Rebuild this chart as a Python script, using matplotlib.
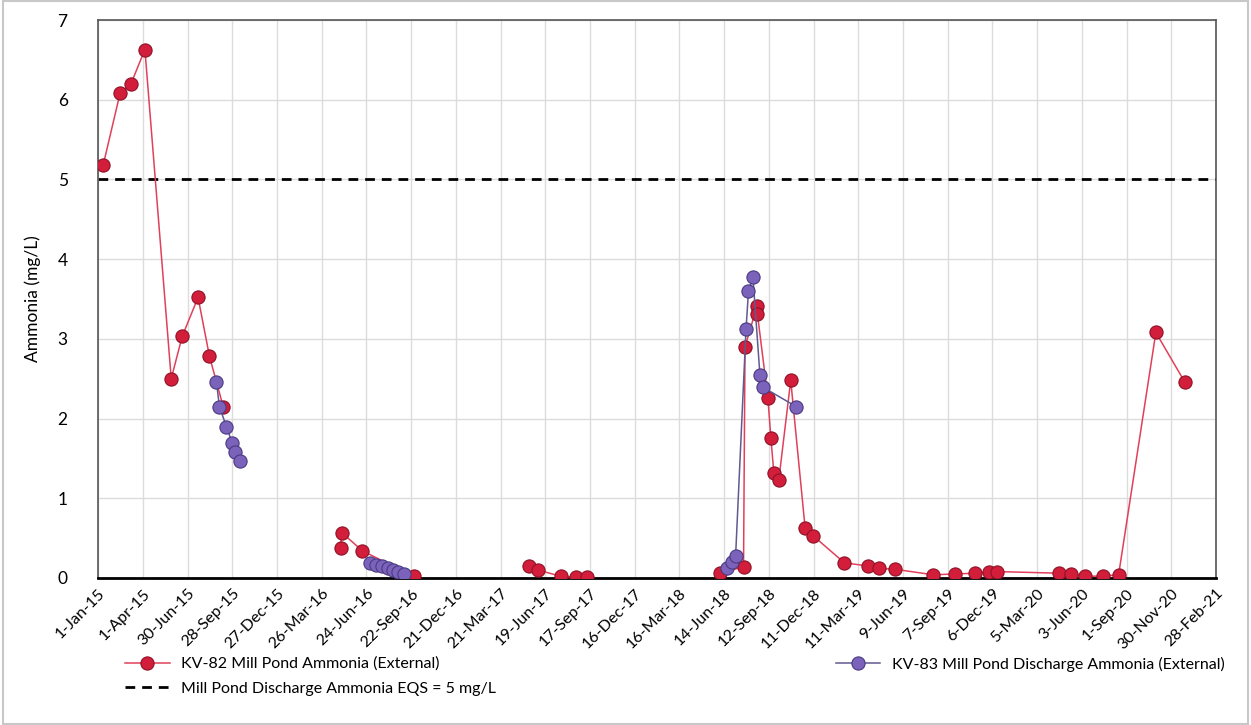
import numpy as np
import pandas as pd
import matplotlib
matplotlib.use('Agg')
import matplotlib.pyplot as plt
from matplotlib.patches import Rectangle

plt.rcParams['font.family'] = ['Lato', 'DejaVu Sans']

# KV-82 Mill Pond Ammonia (External)
red_dates = ['2015-01-11', '2015-02-14', '2015-03-08', '2015-04-05', '2015-05-28',
             '2015-06-19', '2015-07-21', '2015-08-13', '2015-09-10',
             '2016-05-03', '2016-05-05', '2016-06-16', '2016-09-27',
             '2017-05-18', '2017-06-04', '2017-07-21', '2017-08-20', '2017-09-10',
             '2018-06-06', '2018-07-23', '2018-07-26', '2018-08-19', '2018-08-20',
             '2018-09-10', '2018-09-16', '2018-09-22', '2018-10-02', '2018-10-26',
             '2018-11-24', '2018-12-10',
             '2019-02-11', '2019-03-31', '2019-04-22', '2019-05-23', '2019-08-09',
             '2019-09-21', '2019-11-01', '2019-11-29', '2019-12-16',
             '2020-04-18', '2020-05-12', '2020-06-10', '2020-07-16', '2020-08-16',
             '2020-10-30', '2020-12-27']
red_vals = [5.18, 6.08, 6.20, 6.63, 2.50,
            3.03, 3.52, 2.78, 2.14,
            0.38, 0.57, 0.34, 0.02,
            0.15, 0.10, 0.02, 0.01, 0.01,
            0.06, 0.14, 2.90, 3.41, 3.31,
            2.26, 1.76, 1.32, 1.23, 2.48,
            0.625, 0.53,
            0.19, 0.15, 0.12, 0.11, 0.04,
            0.05, 0.06, 0.07, 0.08,
            0.06, 0.05, 0.02, 0.025, 0.04,
            3.08, 2.46]
red_breaks = ['2015-09-10', '2016-09-27', '2017-09-10']

# KV-83 Mill Pond Discharge Ammonia (External)
purple_dates = ['2015-08-27', '2015-09-02', '2015-09-16', '2015-09-28', '2015-10-04', '2015-10-13',
                '2016-07-01', '2016-07-13', '2016-07-25', '2016-08-06', '2016-08-16', '2016-08-26',
                '2016-09-07',
                '2018-06-20', '2018-06-29', '2018-07-07', '2018-07-28', '2018-08-02',
                '2018-08-11', '2018-08-25', '2018-09-01', '2018-11-06']
purple_vals = [2.46, 2.15, 1.90, 1.69, 1.58, 1.47,
               0.19, 0.16, 0.15, 0.13, 0.10, 0.08,
               0.05,
               0.12, 0.20, 0.27, 3.12, 3.60,
               3.77, 2.55, 2.39, 2.15]
purple_breaks = ['2015-10-13', '2016-09-07']

eqs_value = 5.0

x_start, x_end = pd.Timestamp('2015-01-01'), pd.Timestamp('2021-02-28')
tick_dates = pd.date_range(x_start, x_end, freq='90D')


def with_gaps(dates, vals, breaks):
    d = pd.to_datetime(dates)
    b = pd.to_datetime(breaks)
    xs, ys = [], []
    for di, v in zip(d, vals):
        xs.append(di)
        ys.append(v)
        if di in b:
            xs.append(di + pd.Timedelta(days=1))
            ys.append(np.nan)
    return xs, ys


fig = plt.figure(figsize=(12.51, 7.25), dpi=100)
ax = fig.add_axes([0.0785, 0.2028, 0.8935, 0.7696])

rx, ry = with_gaps(red_dates, red_vals, red_breaks)
px, py = with_gaps(purple_dates, purple_vals, purple_breaks)

red_line, = ax.plot(rx, ry, '-', color='#e0405a', lw=1.1, marker='o', markersize=9.5,
                    markerfacecolor='#d21d3b', markeredgecolor='#8e1226', markeredgewidth=0.8,
                    label='KV-82 Mill Pond Ammonia (External)', zorder=3)
purple_line, = ax.plot(px, py, '-', color='#5f5a90', lw=1.1, marker='o', markersize=9.5,
                       markerfacecolor='#7b62bb', markeredgecolor='#4a3a82', markeredgewidth=0.8,
                       label='KV-83 Mill Pond Discharge Ammonia (External)', zorder=4)
eqs_line = ax.axhline(eqs_value, color='black', lw=2, ls=(0, (3.5, 2.5)),
                      label='Mill Pond Discharge Ammonia EQS = 5 mg/L', zorder=2)

ax.set_xlim(x_start, x_end)
ax.set_ylim(0, 7)
ax.set_xticks(tick_dates)
ax.set_xticklabels([f"{d.day}-{d.strftime('%b-%y')}" for d in tick_dates],
                   rotation=45, ha='right', rotation_mode='anchor', fontsize=11.5)
ax.set_yticks(range(0, 8))
ax.tick_params(axis='y', labelsize=12.5, length=0, pad=22)
ax.tick_params(axis='x', length=0, pad=6)
ax.grid(True, color='#dcdcdc', lw=1)
ax.set_axisbelow(True)
ax.set_ylabel('Ammonia (mg/L)', fontsize=12.5, labelpad=12)

for s in ['left', 'top', 'right']:
    ax.spines[s].set_color('#555555')
    ax.spines[s].set_linewidth(1.2)
ax.spines['bottom'].set_color('black')
ax.spines['bottom'].set_linewidth(2)

leg_kw = dict(loc='upper left', frameon=False, fontsize=11.5, handlelength=2.8,
              labelspacing=0.65, borderpad=0, borderaxespad=0, handletextpad=0.7)
fig.legend([red_line, eqs_line], [red_line.get_label(), eqs_line.get_label()],
           bbox_to_anchor=(0.1, 0.094), **leg_kw)
fig.legend([purple_line], [purple_line.get_label()],
           bbox_to_anchor=(0.668, 0.094), **leg_kw)

fig.patches.append(Rectangle((0.002, 0.002), 0.996, 0.996, transform=fig.transFigure,
                             fill=False, edgecolor='#c8c8c8', lw=1.5))

fig.savefig('out.png', dpi=100)
